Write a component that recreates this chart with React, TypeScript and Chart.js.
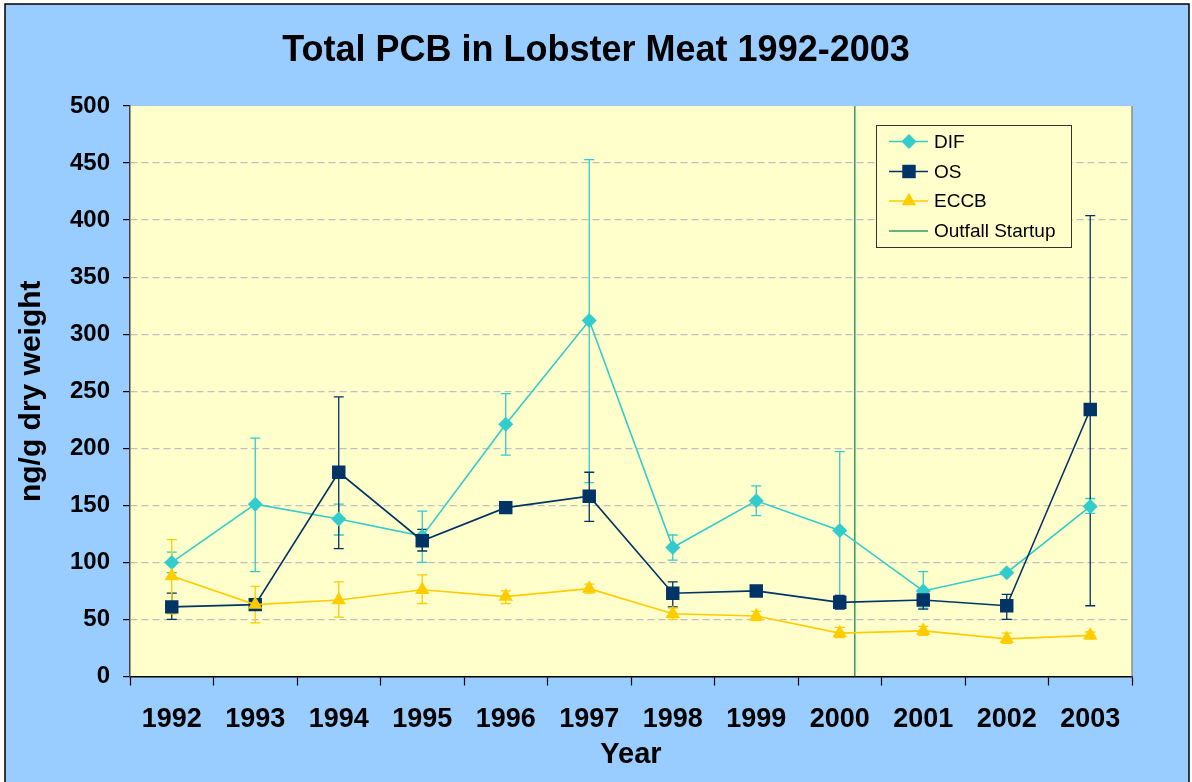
import React, { useEffect, useRef } from 'react';
import { Chart, registerables } from 'chart.js';

Chart.register(...registerables);

const years = ['1992', '1993', '1994', '1995', '1996', '1997', '1998', '1999', '2000', '2001', '2002', '2003'];

const difMean = [100, 151, 138, 123, 221, 312, 113, 154, 128, 75, 91, 149];
const difUpper = [109, 209, 151, 145, 248, 453, 124, 167, 197, 92, null, 156];
const difLower = [91, 92, 124, 100, 194, 170, 102, 141, 62, 60, null, 143];

const osMean = [61, 63, 179, 119, 148, 158, 73, 75, 65, 67, 62, 234];
const osUpper = [73, null, 245, 129, null, 179, 83, null, 71, 72, 72, 404];
const osLower = [50, null, 112, 110, null, 136, 61, null, 59, 59, 50, 62];

const eccbMean = [88, 63, 67, 76, 70, 77, 55, 53, 38, 40, 33, 36];
const eccbUpper = [120, 79, 83, 89, 75, 81, 60, 57, 43, 44, 38, 39];
const eccbLower = [55, 47, 52, 64, 64, 73, 50, 49, 34, 36, 29, 33];

const outfallX = [8.18, 8.18];
const outfallY = [0, 500];

const FONT = "'Liberation Sans', Arial, sans-serif";

function markerPath(ctx: CanvasRenderingContext2D, style: string, x: number, y: number, r: number) {
  ctx.beginPath();
  if (style === 'rectRot') {
    ctx.moveTo(x - r, y);
    ctx.lineTo(x, y - r);
    ctx.lineTo(x + r, y);
    ctx.lineTo(x, y + r);
    ctx.closePath();
  } else if (style === 'rect') {
    const s = Math.SQRT1_2 * r;
    ctx.rect(x - s, y - s, 2 * s, 2 * s);
  } else if (style === 'triangle') {
    let a = 0;
    ctx.moveTo(x + Math.sin(a) * r, y - Math.cos(a) * r);
    a += (2 * Math.PI) / 3;
    ctx.lineTo(x + Math.sin(a) * r, y - Math.cos(a) * r);
    a += (2 * Math.PI) / 3;
    ctx.lineTo(x + Math.sin(a) * r, y - Math.cos(a) * r);
    ctx.closePath();
  }
}

const backgroundPlugin = {
  id: 'bgPlugin',
  beforeDraw(chart: any) {
    const { ctx, width, height, chartArea } = chart;
    ctx.save();
    ctx.fillStyle = '#ffffff';
    ctx.fillRect(0, 0, width, height);
    ctx.fillStyle = '#99CCFF';
    ctx.fillRect(5, 4, 1184, height + 10);
    ctx.strokeStyle = '#000000';
    ctx.lineWidth = 1.5;
    ctx.strokeRect(5, 4, 1184, height + 10);
    ctx.fillStyle = '#FFFFCC';
    ctx.fillRect(chartArea.left, chartArea.top, chartArea.right - chartArea.left, chartArea.bottom - chartArea.top);
    ctx.restore();
  },
  beforeDatasetsDraw(chart: any) {
    const { ctx, chartArea } = chart;
    ctx.save();
    ctx.strokeStyle = '#8c8c8c';
    ctx.lineWidth = 1.5;
    ctx.beginPath();
    ctx.moveTo(chartArea.right, chartArea.top);
    ctx.lineTo(chartArea.right, chartArea.bottom);
    ctx.stroke();
    ctx.restore();
  },
};

const errorBarPlugin = {
  id: 'errorBars',
  beforeDatasetsDraw(chart: any) {
    const { ctx } = chart;
    const yScale = chart.scales.y;
    chart.data.datasets.forEach((ds: any, i: number) => {
      if (!ds.errUpper) return;
      const meta = chart.getDatasetMeta(i);
      ctx.save();
      ctx.strokeStyle = ds.borderColor;
      ctx.lineWidth = 1.3;
      meta.data.forEach((pt: any, j: number) => {
        const up = ds.errUpper[j];
        const lo = ds.errLower[j];
        if (up == null || lo == null) return;
        const x = pt.x;
        const yU = yScale.getPixelForValue(up);
        const yL = yScale.getPixelForValue(lo);
        ctx.beginPath();
        ctx.moveTo(x, yU);
        ctx.lineTo(x, yL);
        ctx.moveTo(x - 5, yU);
        ctx.lineTo(x + 5, yU);
        ctx.moveTo(x - 5, yL);
        ctx.lineTo(x + 5, yL);
        ctx.stroke();
      });
      ctx.restore();
    });
  },
};

const legendPlugin = {
  id: 'boxLegend',
  afterDraw(chart: any) {
    const { ctx } = chart;
    const bx = 876.5;
    const by = 125.5;
    const bw = 195;
    const bh = 122;
    const rows = [141.5, 171.5, 201, 231];
    ctx.save();
    ctx.fillStyle = '#FFFFCC';
    ctx.fillRect(bx, by, bw, bh);
    ctx.strokeStyle = '#333333';
    ctx.lineWidth = 1;
    ctx.strokeRect(bx, by, bw, bh);
    chart.data.datasets.forEach((ds: any, i: number) => {
      const y = rows[i];
      ctx.strokeStyle = ds.borderColor;
      ctx.lineWidth = 1.5;
      ctx.beginPath();
      ctx.moveTo(889, y);
      ctx.lineTo(928, y);
      ctx.stroke();
      if (ds.pointStyle && ds.pointRadius > 0) {
        ctx.fillStyle = ds.backgroundColor;
        markerPath(ctx, ds.pointStyle, 909, y, ds.pointRadius);
        ctx.fill();
      }
      ctx.fillStyle = '#000000';
      ctx.font = `19px ${FONT}`;
      ctx.textAlign = 'left';
      ctx.textBaseline = 'middle';
      ctx.fillText(ds.label, 934, y + 1);
    });
    ctx.restore();
  },
};

export default function App() {
  const canvasRef = useRef<HTMLCanvasElement | null>(null);

  useEffect(() => {
    document.body.style.margin = '0';
    const canvas = canvasRef.current;
    if (!canvas) return;

    const chart = new Chart(canvas, {
      type: 'line',
      data: {
        labels: years,
        datasets: [
          {
            label: 'DIF',
            data: difMean,
            errUpper: difUpper,
            errLower: difLower,
            borderColor: '#33CCCC',
            backgroundColor: '#33CCCC',
            borderWidth: 1.6,
            pointStyle: 'rectRot',
            pointRadius: 7.5,
            pointBorderWidth: 0,
            order: 3,
          } as any,
          {
            label: 'OS',
            data: osMean,
            errUpper: osUpper,
            errLower: osLower,
            borderColor: '#003366',
            backgroundColor: '#003366',
            borderWidth: 1.6,
            pointStyle: 'rect',
            pointRadius: 9.5,
            pointBorderWidth: 0,
            order: 2,
          } as any,
          {
            label: 'ECCB',
            data: eccbMean,
            errUpper: eccbUpper,
            errLower: eccbLower,
            borderColor: '#FFCC00',
            backgroundColor: '#FFCC00',
            borderWidth: 1.6,
            pointStyle: 'triangle',
            pointRadius: 8.3,
            pointBorderWidth: 0,
            order: 1,
          } as any,
          {
            label: 'Outfall Startup',
            data: outfallX.map((x, i) => ({ x, y: outfallY[i] })),
            xAxisID: 'x2',
            borderColor: '#339966',
            backgroundColor: '#339966',
            borderWidth: 1.5,
            pointRadius: 0,
            order: 5,
          } as any,
        ],
      },
      options: {
        animation: false,
        responsive: false,
        devicePixelRatio: 1,
        layout: { padding: { left: 6, right: 6, top: 0, bottom: 0 } },
        plugins: {
          legend: { display: false },
          tooltip: { enabled: false },
          title: {
            display: true,
            text: 'Total PCB in Lobster Meat 1992-2003',
            color: '#000000',
            font: { family: FONT, size: 36, weight: 'bold' },
            padding: { top: 29, bottom: 33.8 },
          },
        },
        scales: {
          x: {
            type: 'category',
            offset: true,
            grid: {
              offset: true,
              drawOnChartArea: false,
              tickLength: 9,
              tickColor: '#000000',
              tickWidth: 1.2,
            },
            border: { color: '#000000', width: 1.5 },
            ticks: {
              color: '#000000',
              font: { family: FONT, size: 27, weight: 'bold' },
              padding: 18,
              maxRotation: 0,
              autoSkip: false,
            },
            title: {
              display: true,
              text: 'Year',
              color: '#000000',
              font: { family: FONT, size: 29, weight: 'bold' },
              padding: { top: 10, bottom: 10 },
            },
            afterFit: (scale: any) => {
              scale.height = 105.5;
            },
          },
          x2: {
            type: 'linear',
            display: false,
            min: -0.5,
            max: 11.5,
          },
          y: {
            min: 0,
            max: 500,
            ticks: {
              stepSize: 50,
              color: '#000000',
              font: { family: FONT, size: 24, weight: 'bold' },
              padding: 13,
            },
            grid: {
              color: (c: any) => (c.tick && (c.tick.value === 0 || c.tick.value === 500) ? 'rgba(0,0,0,0)' : '#C0C0C0'),
              lineWidth: 1.2,
              tickLength: 7,
              tickColor: '#000000',
              tickWidth: 1.2,
            },
            border: { color: '#404040', width: 1.5, dash: [7, 4] },
            title: {
              display: true,
              text: 'ng/g dry weight',
              color: '#000000',
              font: { family: FONT, size: 30, weight: 'bold' },
              padding: { top: 8, bottom: 8 },
            },
            afterFit: (scale: any) => {
              scale.width = 124;
            },
          },
          yR: {
            type: 'linear',
            position: 'right',
            display: true,
            min: 0,
            max: 500,
            grid: { display: false, drawTicks: false },
            border: { display: false },
            ticks: { display: false },
            afterFit: (scale: any) => {
              scale.width = 54;
            },
          },
        },
      } as any,
      plugins: [backgroundPlugin, errorBarPlugin, legendPlugin],
    });

    return () => {
      chart.destroy();
    };
  }, []);

  return (
    <div style={{ width: 1192, height: 782 }}>
      <canvas ref={canvasRef} width={1192} height={782} style={{ display: 'block' }} />
    </div>
  );
}
